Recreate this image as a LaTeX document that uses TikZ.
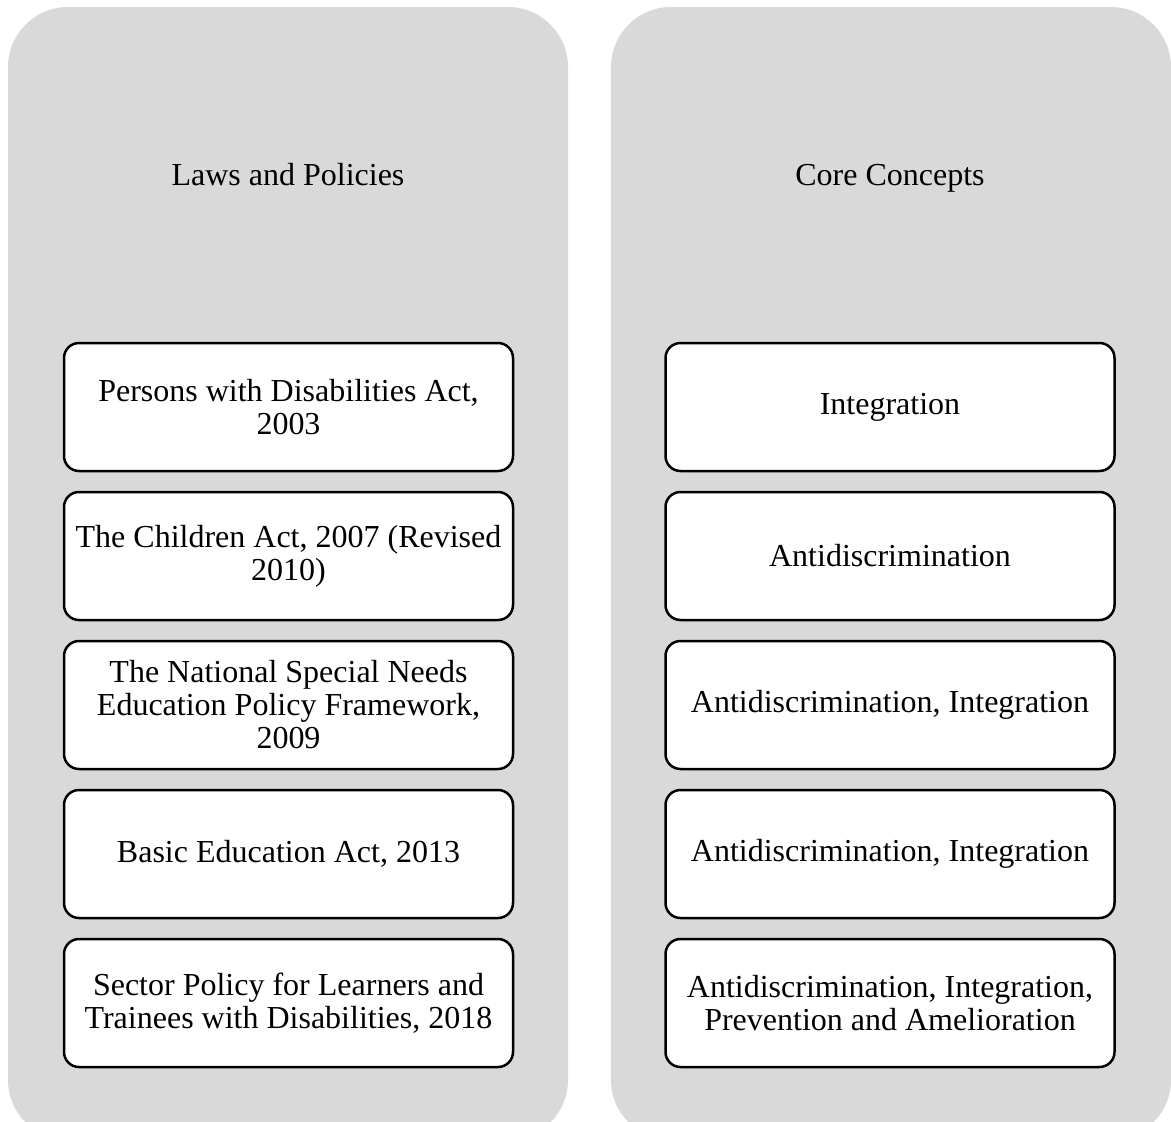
\documentclass[tikz,border=0pt]{standalone}
\usepackage{fontspec}
\setmainfont{Liberation Serif}
\usepackage{xcolor}
\usepackage{tikz}
\usetikzlibrary{positioning}

\definecolor{panelgray}{HTML}{D9D9D9}

\begin{document}
\begin{tikzpicture}[x=1pt, y=-1pt,
    panel/.style={fill=panelgray, draw=none, rounded corners=60pt},
    head/.style={font=\fontsize{32}{33}\selectfont, anchor=base},
    lawbox/.style={draw=black, line width=2.5pt, fill=white, rounded corners=15pt,
        minimum width=449pt, minimum height=128pt, align=center, outer sep=0pt,
        font=\fontsize{32}{33}\selectfont, inner sep=0pt},
    node distance=21pt]
    \clip (0,0) rectangle (1171,1122);

    % Panels
    \fill[panel] (8,7) rectangle (568,1140);
    \fill[panel] (611,7) rectangle (1171,1140);

    \node[head] (lawshead) at (288,185) {Laws and Policies};
    \node[head] (corehead) at (890,185) {Core Concepts};

    % Laws and policies
    \node[lawbox] (law1) at (288.5,407) {Persons with Disabilities Act,\\2003};
    \node[lawbox, below=of law1] (law2) {The Children Act, 2007 (Revised\\2010)};
    \node[lawbox, below=of law2] (law3) {The National Special Needs\\Education Policy Framework,\\2009};
    \node[lawbox, below=of law3] (law4) {Basic Education Act, 2013};
    \node[lawbox, below=of law4] (law5) {Sector Policy for Learners and\\Trainees with Disabilities, 2018};

    % Core concepts
    \node[lawbox] (core1) at (890,407) {Integration};
    \node[lawbox, below=of core1] (core2) {Antidiscrimination};
    \node[lawbox, below=of core2] (core3) {Antidiscrimination, Integration};
    \node[lawbox, below=of core3] (core4) {Antidiscrimination, Integration};
    \node[lawbox, below=of core4] (core5) {Antidiscrimination, Integration,\\Prevention and Amelioration};
\end{tikzpicture}
\end{document}
